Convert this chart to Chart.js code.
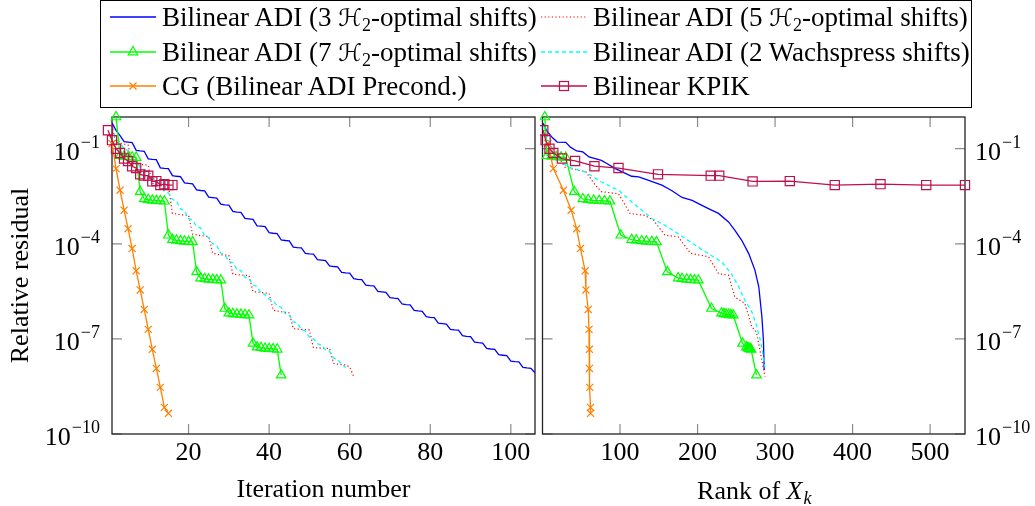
<!DOCTYPE html>
<html>
<head>
<meta charset="utf-8">
<script src="https://cdn.jsdelivr.net/npm/chart.js@4.4.1/dist/chart.umd.min.js"></script>
<style>
  body { margin: 0; background: #fff; }
  #wrap { position: relative; width: 1035px; height: 506px; overflow: hidden; font-family: 'Liberation Serif', 'DejaVu Serif', serif; }
  #left { position: absolute; left: 0; top: 0; }
  #right { position: absolute; left: 540px; top: 0; }
  #legend { position: absolute; left: 100px; top: 0; width: 870px; height: 106px; border: 1px solid #000; font-size: 27px; color: #000; }
  .item { position: absolute; height: 30px; display: flex; align-items: center; white-space: nowrap; }
  .item svg { width: 46px; height: 20px; margin-right: 6px; flex: none; }
  .cal { font-family: 'DejaVu Serif', 'DejaVu Sans', serif; font-size: 24px; }
  sub { font-size: 18px; vertical-align: -5px; line-height: 0; }
</style>
</head>
<body>
<div id="wrap">
  <canvas id="left" width="540" height="506"></canvas>
  <canvas id="right" width="495" height="506"></canvas>
  <div id="legend">
    <div class="item" style="left:9px;top:1px">
      <svg viewBox="0 0 46 20"><line x1="0" y1="10" x2="46" y2="10" stroke="#0000ff" stroke-width="1.3"/></svg>
      <span>Bilinear ADI (3 <span class="cal">ℋ</span><sub>2</sub>-optimal shifts)</span>
    </div>
    <div class="item" style="left:440px;top:1px">
      <svg viewBox="0 0 46 20"><line x1="0" y1="10" x2="46" y2="10" stroke="#ff0000" stroke-width="1.2" stroke-dasharray="1.2 2.4"/></svg>
      <span>Bilinear ADI (5 <span class="cal">ℋ</span><sub>2</sub>-optimal shifts)</span>
    </div>
    <div class="item" style="left:9px;top:36px">
      <svg viewBox="0 0 46 20"><line x1="0" y1="10" x2="46" y2="10" stroke="#00ff00" stroke-width="1.3"/><polygon points="23,4.5 27.8,12.8 18.2,12.8" fill="none" stroke="#00ff00" stroke-width="1.2"/></svg>
      <span>Bilinear ADI (7 <span class="cal">ℋ</span><sub>2</sub>-optimal shifts)</span>
    </div>
    <div class="item" style="left:440px;top:36px">
      <svg viewBox="0 0 46 20"><line x1="0" y1="10" x2="46" y2="10" stroke="#00ffff" stroke-width="1.3" stroke-dasharray="4 3"/></svg>
      <span>Bilinear ADI (2 Wachspress shifts)</span>
    </div>
    <div class="item" style="left:9px;top:70px">
      <svg viewBox="0 0 46 20"><line x1="0" y1="10" x2="46" y2="10" stroke="#ff8000" stroke-width="1.3"/><path d="M19.5 6.5 L26.5 13.5 M26.5 6.5 L19.5 13.5" stroke="#ff8000" stroke-width="1.2"/></svg>
      <span>CG (Bilinear ADI Precond.)</span>
    </div>
    <div class="item" style="left:440px;top:70px">
      <svg viewBox="0 0 46 20"><line x1="0" y1="10" x2="46" y2="10" stroke="#c0104a" stroke-width="1.3"/><rect x="18.5" y="5.5" width="9" height="9" fill="none" stroke="#c0104a" stroke-width="1.2"/></svg>
      <span>Bilinear KPIK</span>
    </div>
  </div>
</div>
<script>
// tick labels
const iterTicks = [20, 40, 60, 80, 100];
const rankTicks = [100, 200, 300, 400, 500];
const residualTicks = [1e-1, 1e-4, 1e-7, 1e-10];
const tickExponents = ['\u22121', '\u22124', '\u22127', '\u221210'];

// residual per iteration (left panel), iteration number = position in array + start
const adi3Residual = [
  6.5e-1, 3.8e-1, 2.6e-1, 1.66e-1, 1.6e-1, 1.55e-1, 8.9e-2, 8.5e-2, 8.3e-2,
  4.8e-2, 4.6e-2, 4.5e-2, 2.5e-2, 2.4e-2, 2.35e-2, 1.41e-2, 1.35e-2, 1.32e-2,
  8.3e-3, 8.0e-3, 7.8e-3, 5.0e-3, 4.8e-3, 4.7e-3, 2.95e-3, 2.85e-3, 2.75e-3,
  1.78e-3, 1.7e-3, 1.65e-3, 1.05e-3, 1.0e-3, 9.8e-4, 6.3e-4, 6.1e-4, 5.9e-4,
  3.7e-4, 3.6e-4, 3.5e-4, 2.24e-4, 2.15e-4, 2.1e-4, 1.32e-4, 1.27e-4, 1.24e-4,
  7.9e-5, 7.6e-5, 7.4e-5, 5.0e-5, 4.8e-5, 4.7e-5, 3.16e-5, 3.05e-5, 2.95e-5,
  2.0e-5, 1.92e-5, 1.88e-5, 1.26e-5, 1.21e-5, 1.18e-5, 7.9e-6, 7.6e-6, 7.4e-6,
  5.0e-6, 4.8e-6, 4.7e-6, 3.16e-6, 3.05e-6, 2.95e-6, 2.0e-6, 1.92e-6, 1.88e-6,
  1.26e-6, 1.21e-6, 1.18e-6, 7.9e-7, 7.6e-7, 7.4e-7, 5.0e-7, 4.8e-7, 4.7e-7,
  3.16e-7, 3.05e-7, 2.95e-7, 2.0e-7, 1.92e-7, 1.88e-7, 1.26e-7, 1.21e-7, 1.18e-7,
  7.9e-8, 7.6e-8, 7.4e-8, 5.0e-8, 4.8e-8, 4.7e-8, 3.16e-8, 3.05e-8, 2.95e-8,
  2.0e-8, 1.92e-8, 1.88e-8, 1.26e-8, 1.21e-8, 1.18e-8, 8.5e-9
];
const adi5Residual = [
  4.0e-1, 1.6e-1, 1.5e-1, 1.4e-1, 1.3e-1, 3.5e-2, 3.3e-2, 3.2e-2, 3.1e-2, 3.0e-2,
  8.0e-3, 7.6e-3, 7.3e-3, 7.1e-3, 6.9e-3, 9.1e-4, 8.7e-4, 8.3e-4, 8.1e-4, 7.9e-4,
  2.0e-4, 1.9e-4, 1.8e-4, 1.75e-4, 1.7e-4, 5.0e-5, 4.7e-5, 4.5e-5, 4.4e-5, 4.3e-5,
  1.1e-5, 1.07e-5, 1.04e-5, 1.02e-5, 1.0e-5, 3.1e-6, 3.0e-6, 2.9e-6, 2.8e-6, 2.7e-6,
  8.1e-7, 7.6e-7, 7.2e-7, 6.9e-7, 6.6e-7, 2.1e-7, 2.05e-7, 2.0e-7, 1.95e-7, 1.9e-7,
  5.3e-8, 5.2e-8, 5.1e-8, 5.0e-8, 5.0e-8, 1.7e-8, 1.6e-8, 1.55e-8, 1.5e-8, 1.3e-8,
  6.5e-9
];
const adi7Residual = [
  1.0, 6.0e-2, 5.75e-2, 5.5e-2, 5.4e-2, 5.25e-2,
  4.4e-3, 2.6e-3, 2.45e-3, 2.35e-3, 2.3e-3, 2.24e-3, 2.2e-3,
  1.86e-4, 1.35e-4, 1.29e-4, 1.23e-4, 1.2e-4, 1.17e-4, 1.15e-4,
  1.3e-5, 8.3e-6, 7.9e-6, 7.6e-6, 7.4e-6, 7.2e-6, 7.1e-6,
  9.1e-7, 6.5e-7, 6.2e-7, 6.0e-7, 5.9e-7, 5.75e-7, 5.6e-7,
  7.2e-8, 5.5e-8, 5.25e-8, 5.0e-8, 4.9e-8, 4.8e-8, 4.7e-8,
  7.2e-9
];
const wachResidual = [
  5.0e-1, 2.0e-1, 1.58e-1, 1.0e-1, 8.9e-2, 5.0e-2, 4.5e-2, 2.5e-2, 2.24e-2, 1.41e-2,
  1.26e-2, 8.9e-3, 7.9e-3, 4.5e-3, 4.0e-3, 2.5e-3, 2.24e-3, 1.26e-3, 1.12e-3, 6.3e-4,
  5.6e-4, 3.5e-4, 3.2e-4, 1.78e-4, 1.58e-4, 1.0e-4, 8.9e-5, 5.0e-5, 4.5e-5, 2.8e-5,
  2.5e-5, 1.58e-5, 1.41e-5, 8.9e-6, 7.9e-6, 5.0e-6, 4.5e-6, 2.8e-6, 2.5e-6, 1.78e-6,
  1.58e-6, 1.12e-6, 1.0e-6, 6.3e-7, 5.6e-7, 3.5e-7, 3.2e-7, 2.0e-7, 1.78e-7, 1.12e-7,
  1.0e-7, 7.1e-8, 6.3e-8, 4.5e-8, 4.0e-8, 2.5e-8, 2.24e-8, 1.58e-8, 1.26e-8
];
const cgResidual = [
  1.45e-1, 2.35e-2, 4.9e-3, 1.15e-3, 3.0e-4, 7.1e-5, 1.41e-5, 3.5e-6,
  8.5e-7, 2.0e-7, 4.7e-8, 1.17e-8, 2.95e-9, 6.9e-10, 4.5e-10
];
const kpikResidual = [
  3.8e-1, 1.86e-1, 1.0e-1, 7.3e-2, 4.9e-2, 4.1e-2, 2.8e-2, 2.45e-2, 1.55e-2,
  1.41e-2, 1.41e-2, 9.3e-3, 9.5e-3, 7.1e-3, 7.6e-3, 7.1e-3, 7.1e-3
];

// rank of X_k (right panel)
const adi3Rank = [1, 5, 13, 19, 30, 36, 44, 52, 60, 76, 83, 94, 115, 124, 137, 154, 167, 180, 193, 205, 214, 227, 240, 248, 257, 266, 274, 279, 283, 285, 286];
const adi3RankResidual = [6.3e-1, 3.8e-1, 2.2e-1, 1.62e-1, 1.58e-1, 1.12e-1, 8.5e-2, 7.9e-2, 5.5e-2, 4.3e-2, 3.4e-2, 2.35e-2, 1.35e-2, 1.29e-2, 1.0e-2, 7.1e-3, 4.7e-3, 2.9e-3, 2.35e-3, 1.66e-3, 1.29e-3, 9.1e-4, 4.9e-4, 2.7e-4, 1.29e-4, 4.9e-5, 1.48e-5, 4.4e-6, 5.0e-7, 9.1e-8, 1.05e-8];
const adi5Rank = [2, 7, 18, 29, 56, 68, 76, 98, 113, 132, 143, 158, 175, 191, 214, 227, 240, 248, 261, 270, 276, 283, 287];
const adi5RankResidual = [4.0e-1, 1.45e-1, 7.0e-2, 2.6e-2, 1.86e-2, 7.1e-3, 4.4e-3, 3.8e-3, 9.0e-4, 7.9e-4, 5.6e-4, 1.86e-4, 1.66e-4, 5.0e-5, 3.9e-5, 1.15e-5, 1.02e-5, 2.1e-6, 1.32e-6, 2.4e-7, 1.66e-7, 2.1e-8, 6.5e-9];
const wachRank = [2, 8, 20, 33, 55, 76, 98, 115, 141, 162, 184, 210, 231, 244, 253, 261, 270, 276, 282, 287];
const wachRankResidual = [5.0e-1, 1.6e-1, 5.0e-2, 2.6e-2, 1.86e-2, 8.9e-3, 4.9e-3, 2.1e-3, 6.3e-4, 3.4e-4, 1.48e-4, 5.6e-5, 2.7e-5, 1.1e-5, 4.4e-6, 1.66e-6, 7.2e-7, 2.7e-7, 7.2e-8, 1.26e-8];
const adi7Rank = [3, 6, 12, 18, 24, 30, 41, 52, 59, 66, 73, 80, 87, 101, 115, 121, 128, 134, 141, 147, 161, 175, 180, 186, 191, 196, 201, 218, 231, 234, 237, 240, 243, 246, 258, 263, 265, 266, 267, 268, 269, 276];
const cgRank = [7, 14, 27, 37, 44, 49, 55, 56, 59, 60, 60.5, 60.5, 61, 62, 62];
const kpikRank = [1, 4, 9, 14, 25, 42, 67, 98, 149, 217, 228, 271, 319, 377, 436, 495, 545];

const serif = "'Liberation Serif', 'DejaVu Serif', serif";
Chart.defaults.font.family = serif;
Chart.defaults.color = '#000';

const byIter = (vals, start) => vals.map((y, i) => ({x: i + start, y}));
const byRank = (ranks, vals) => ranks.map((x, i) => ({x, y: vals[i]}));

function lineStyle(color, extra) {
  return Object.assign({
    borderColor: color, backgroundColor: color, borderWidth: 1.3,
    pointRadius: 0, pointHoverRadius: 0, tension: 0, fill: false
  }, extra);
}
function markStyle(color, style, radius) {
  return lineStyle(color, {
    pointStyle: style, pointRadius: radius, pointBorderWidth: 1.2,
    pointBorderColor: color, pointBackgroundColor: 'rgba(0,0,0,0)', clip: false
  });
}

const framePlugin = {
  id: 'frame',
  beforeDatasetsDraw(chart, args, opts) {
    const {ctx, chartArea: a, scales: {x, y}} = chart;
    ctx.save();
    ctx.strokeStyle = '#8c8c8c';
    ctx.lineWidth = 1.2;
    ctx.beginPath();
    x.ticks.forEach(t => {
      const px = x.getPixelForValue(t.value);
      ctx.moveTo(px, a.bottom); ctx.lineTo(px, a.bottom - 10);
      ctx.moveTo(px, a.top); ctx.lineTo(px, a.top + 10);
    });
    y.ticks.forEach(t => {
      const py = y.getPixelForValue(t.value);
      ctx.moveTo(a.left, py); ctx.lineTo(a.left + 10, py);
      ctx.moveTo(a.right, py); ctx.lineTo(a.right - 10, py);
    });
    ctx.stroke();
    ctx.strokeStyle = '#222';
    ctx.lineWidth = 1.3;
    ctx.strokeRect(a.left, a.top, a.right - a.left, a.bottom - a.top);
    ctx.restore();
  },
  afterDraw(chart, args, opts) {
    const {ctx, chartArea: a, scales: {y}} = chart;
    ctx.save();
    ctx.fillStyle = '#000';
    ctx.textBaseline = 'alphabetic';
    ctx.textAlign = 'left';
    residualTicks.forEach((v, i) => {
      const py = y.getPixelForValue(v);
      ctx.font = '26px ' + serif;
      const wBase = ctx.measureText('10').width;
      ctx.font = '18px ' + serif;
      const wExp = ctx.measureText(tickExponents[i]).width;
      const x0 = opts.side === 'left' ? a.left - 12 - wExp - wBase - 1 : a.right + 10;
      ctx.font = '26px ' + serif;
      ctx.fillText('10', x0, py + 11);
      ctx.font = '18px ' + serif;
      ctx.fillText(tickExponents[i], x0 + wBase + 1, py - 1);
    });
    if (opts.rankTitle) {
      const cx = (a.left + a.right) / 2, base = 499;
      ctx.font = '26px ' + serif;
      const w1 = ctx.measureText('Rank of ').width;
      ctx.font = 'italic 26px ' + serif;
      const w2 = ctx.measureText('X').width;
      ctx.font = 'italic 18px ' + serif;
      const w3 = ctx.measureText('k').width;
      let x0 = cx - (w1 + w2 + w3) / 2;
      ctx.font = '26px ' + serif;
      ctx.fillText('Rank of ', x0, base);
      ctx.font = 'italic 26px ' + serif;
      ctx.fillText('X', x0 + w1, base);
      ctx.font = 'italic 18px ' + serif;
      ctx.fillText('k', x0 + w1 + w2 + 1, base + 5);
    }
    ctx.restore();
  }
};

function axes(xMin, xMax, xTicks, yPos, yWidth, xTitle, yTitle) {
  return {
    x: {
      type: 'linear', min: xMin, max: xMax,
      grid: {display: false, drawTicks: false}, border: {display: false},
      afterBuildTicks: s => { s.ticks = xTicks.map(v => ({value: v})); },
      afterFit: s => { s.height = 72; },
      ticks: {font: {size: 26}, color: '#000', padding: 4, maxRotation: 0, autoSkip: false},
      title: {display: !!xTitle, text: xTitle || '', font: {size: 26}, color: '#000', padding: {top: 0, bottom: 0}}
    },
    y: {
      type: 'logarithmic', position: yPos, min: 1e-10, max: 1,
      grid: {display: false, drawTicks: false}, border: {display: false},
      afterBuildTicks: s => { s.ticks = residualTicks.map(v => ({value: v})); },
      afterFit: s => { s.width = yWidth; },
      ticks: {display: false},
      title: {display: !!yTitle, text: yTitle || '', font: {size: 26}, color: '#000', padding: {top: 6}}
    }
  };
}

const seriesColors = ['#c0104a', '#ff8000', '#00ff00', '#00ffff', '#ff0000', '#0000ff'];
function seriesStyles() {
  return [
    markStyle(seriesColors[0], 'rect', 6.5),
    markStyle(seriesColors[1], 'crossRot', 5),
    markStyle(seriesColors[2], 'triangle', 5.5),
    lineStyle(seriesColors[3], {borderDash: [4, 3]}),
    lineStyle(seriesColors[4], {borderDash: [1.2, 2.4], borderWidth: 1.2}),
    lineStyle(seriesColors[5])
  ];
}
const seriesLabels = ['Bilinear KPIK', 'CG (Bilinear ADI Precond.)', 'Bilinear ADI (7 H2-optimal shifts)',
  'Bilinear ADI (2 Wachspress shifts)', 'Bilinear ADI (5 H2-optimal shifts)', 'Bilinear ADI (3 H2-optimal shifts)'];

new Chart(document.getElementById('left'), {
  type: 'line',
  data: {
    datasets: seriesStyles().map((d, i) => Object.assign(d, {
      label: seriesLabels[i],
      data: [byIter(kpikResidual, 0), byIter(cgResidual, 1), byIter(adi7Residual, 2),
             byIter(wachResidual, 1), byIter(adi5Residual, 1), byIter(adi3Residual, 1)][i]
    }))
  },
  options: {
    responsive: false,
    animation: false,
    events: [],
    layout: {autoPadding: false, padding: {top: 117, right: 5, left: 0, bottom: 0}},
    plugins: {legend: {display: false}, tooltip: {enabled: false}, frame: {side: 'left'}},
    scales: axes(1, 106, iterTicks, 'left', 112, 'Iteration number', 'Relative residual')
  },
  plugins: [framePlugin]
});

new Chart(document.getElementById('right'), {
  type: 'line',
  data: {
    datasets: seriesStyles().map((d, i) => Object.assign(d, {
      label: seriesLabels[i],
      data: [byRank(kpikRank, kpikResidual), byRank(cgRank, cgResidual), byRank(adi7Rank, adi7Residual),
             byRank(wachRank, wachRankResidual), byRank(adi5Rank, adi5RankResidual),
             byRank(adi3Rank, adi3RankResidual)][i]
    }))
  },
  options: {
    responsive: false,
    animation: false,
    events: [],
    layout: {autoPadding: false, padding: {top: 117, right: 0, left: 2.5, bottom: 0}},
    plugins: {legend: {display: false}, tooltip: {enabled: false}, frame: {side: 'right', rankTitle: true}},
    scales: axes(0, 545, rankTicks, 'right', 70, null, null)
  },
  plugins: [framePlugin]
});
</script>
</body>
</html>
